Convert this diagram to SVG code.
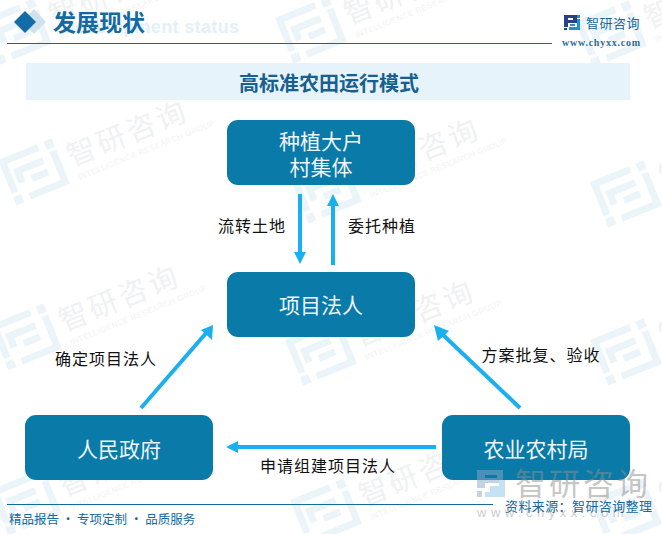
<svg xmlns="http://www.w3.org/2000/svg" xmlns:xlink="http://www.w3.org/1999/xlink" width="662" height="534" viewBox="0 0 662 534">
<style>
text{font-family:"Noto Sans CJK SC","Noto Sans",sans-serif}
.n{fill:#0a7aa8}
.nt{fill:#eef6fa;font-size:21px;text-anchor:middle}
.lb{fill:#111;font-size:16px;text-anchor:middle;letter-spacing:1px}
.c{stroke:#1ab0ef;stroke-width:4;fill:none}
.ah{fill:#1ab0ef}
.wm{fill:#f0f1f2;font-size:29px;letter-spacing:3px}
.we{fill:#f2f3f4;font-size:8px;font-family:"Liberation Sans",sans-serif;letter-spacing:.4px}
</style>
<defs>
<g id="mark" fill="#ebf4f8">
<path d="M0 0h24v4h-20v17h-4z M10 8h14v4h-14v5h-4v-9z M28 0h5v5h-5z M0 23h5v5h-5z M28 7h5v21h-24v-4h20v-17z M14 15h10v4h-10z"/>
</g>
<g id="wmk" transform="rotate(-22)">
<use xlink:href="#mark" transform="scale(1.75)"/>
<text class="wm" x="66" y="34">智研咨询</text>
<text class="we" x="68" y="49">INTELLIGENCE RESEARCH GROUP</text>
</g>
</defs>
<rect width="662" height="534" fill="#fff"/>
<g id="watermarks">
<use xlink:href="#wmk" transform="translate(-20,20)"/>
<use xlink:href="#wmk" transform="translate(275,18)"/>
<use xlink:href="#wmk" transform="translate(575,22)"/>
<use xlink:href="#wmk" transform="translate(-2,160)"/>
<use xlink:href="#wmk" transform="translate(290,178)"/>
<use xlink:href="#wmk" transform="translate(590,182)"/>
<use xlink:href="#wmk" transform="translate(-10,325)"/>
<use xlink:href="#wmk" transform="translate(285,340)"/>
<use xlink:href="#wmk" transform="translate(590,340)"/>
<use xlink:href="#wmk" transform="translate(-10,490)"/>
<use xlink:href="#wmk" transform="translate(290,500)"/>
<use xlink:href="#wmk" transform="translate(590,500)"/>
</g>
<g id="header">
<text x="62" y="33" fill="#e3f0f8" font-size="18" font-weight="700" style="font-family:'Liberation Sans',sans-serif" textLength="177">Development status</text>
<polygon points="34,9 46,22 34,34 21,22" fill="#cfe2ee"/>
<polygon points="25,11 36,22 25,33 14,22" fill="#136ca8"/>
<text x="53" y="31" fill="#14699f" font-size="23" font-weight="700">发展现状</text>
<rect x="7" y="43" width="545" height="1" fill="#1c6394"/>
<g id="brand">
<path d="M564 15h13v8h-9v4h-4zM568 18v2h5v-2zM564 28h3v2h-3z" fill="#2c3f8c" fill-rule="evenodd"/>
<path d="M577 15h3v3h-3zM577 19h3v11h-11v-3h8zM570 24h5v2h-5z" fill="#2090d0"/>
<text x="586" y="28" fill="#14699f" font-size="13" letter-spacing=".5">智研咨询</text>
<text x="562" y="46" fill="#2a6e9e" font-size="10" font-weight="700" style="font-family:'Liberation Serif',serif" textLength="78">www.chyxx.com</text>
</g>
</g>
<rect id="title-bar" x="26" y="63" width="604" height="37" fill="#e6f3fb"/>
<text x="329" y="91" fill="#17608f" font-size="20" font-weight="700" text-anchor="middle">高标准农田运行模式</text>
<g id="connectors">
<path class="c" d="M300 194V254"/><polygon class="ah" points="294,252 306,252 300,264"/>
<path class="c" d="M333 265V204"/><polygon class="ah" points="327,206 339,206 333,194"/>
<path class="c" d="M141 408L207 332"/><polygon class="ah" points="201,330 212,340 213,325"/>
<path class="c" d="M520 408L441 333"/><polygon class="ah" points="434,325 449,331 438,341"/>
<path class="c" d="M436 447H236"/><polygon class="ah" points="238,441 238,453 226,447"/>
</g>
<g id="edge-labels">
<text class="lb" x="252" y="232">流转土地</text>
<text class="lb" x="382" y="232">委托种植</text>
<text class="lb" x="106" y="365">确定项目法人</text>
<text class="lb" x="541" y="361">方案批复、验收</text>
<text class="lb" x="328" y="472">申请组建项目法人</text>
</g>
<g id="node-top"><rect class="n" x="227" y="120" width="188" height="65" rx="11"/>
<text class="nt" x="321" y="149">种植大户</text><text class="nt" x="321" y="175">村集体</text></g>
<g id="node-project"><rect class="n" x="227" y="272" width="188" height="65" rx="11"/>
<text class="nt" x="321" y="313">项目法人</text></g>
<g id="node-gov"><rect class="n" x="25" y="415" width="188" height="65" rx="11"/>
<text class="nt" x="119" y="457">人民政府</text></g>
<g id="node-agri"><rect class="n" x="442" y="415" width="188" height="65" rx="11"/>
<text class="nt" x="536" y="457">农业农村局</text></g>
<g id="footer">
<g opacity=".5">
<path d="M477 470h26v13h-18v5h-8zM485 475v3h12v-3zM477 491h5v6h-5z" fill="#8aa8c4" fill-rule="evenodd"/>
<path d="M490 486h9v-6h6v17h-20v-5h5z" fill="#8cc4e6"/>
<text x="515" y="495" fill="#8e8e8e" font-size="31" letter-spacing="3">智研咨询</text>
<text x="477" y="517" fill="#9a9a9a" font-size="13" letter-spacing="4.5" style="font-family:'Liberation Sans',sans-serif">www.chyxx.com</text>
</g>
<rect x="7" y="504" width="486" height="1" fill="#0f6ba0"/>
<text x="505" y="511" fill="#14699f" font-size="13" letter-spacing=".4">资料来源：智研咨询整理</text>
<text x="9" y="524" fill="#14699f" font-size="12.5">精品报告 · 专项定制 · 品质服务</text>
</g>
</svg>
